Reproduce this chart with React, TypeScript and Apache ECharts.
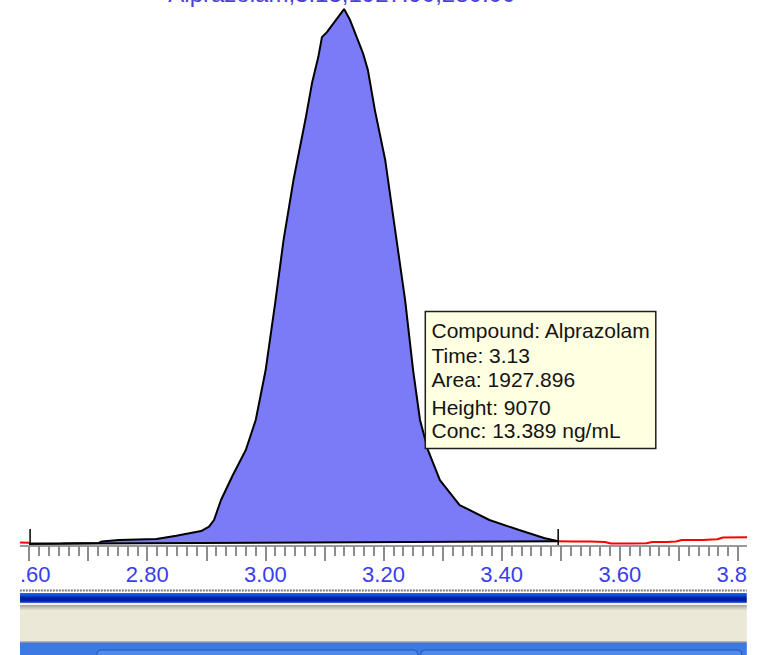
import React, { useEffect, useRef } from "react";
import * as echarts from "echarts";

// Integrated peak trace (retention time in min, signal in counts)
const peakTime = [2.6, 2.655, 2.7182, 2.7232, 2.7518, 2.8156, 2.8493, 2.8711, 2.8913, 2.9047, 2.9131, 2.9249, 2.945, 2.9669, 2.9837, 3.0005, 3.0173, 3.0308, 3.0476, 3.0677, 3.079, 3.0896, 3.0958, 3.1042, 3.1333, 3.1434, 3.1652, 3.1736, 3.1854, 3.2029, 3.2197, 3.2366, 3.2501, 3.2618, 3.2753, 3.2955, 3.3289, 3.3793, 3.4297, 3.4717, 3.4957];
const peakSignal = [39, 43, 51, 77, 102, 119, 175, 216, 255, 329, 443, 783, 1209, 1635, 2146, 2997, 4189, 5211, 6233, 7255, 7885, 8328, 8668, 8753, 9145, 8958, 8396, 8106, 7425, 6574, 5381, 4189, 2997, 2146, 1635, 1124, 698, 443, 272, 136, 80];

// Integration baseline
const baselineTime = [2.6, 3.4957];
const baselineSignal = [39, 80];

// Non-integrated trace (red)
const leftTraceTime = [2.58, 2.6];
const leftTraceSignal = [58, 56];
const rightTraceTime = [3.4957, 3.52, 3.55, 3.575, 3.585, 3.62, 3.645, 3.655, 3.68, 3.695, 3.705, 3.74, 3.765, 3.775, 3.83];
const rightTraceSignal = [80, 78, 76, 68, 44, 43, 48, 68, 70, 78, 102, 104, 115, 145, 150];

// Integration start/end markers
const markerTime = [2.6017, 3.4957];
const markerHeight = 290;

// Peak annotation
const peakLabel = "Alprazolam,3.13,1927.90,280.00";
const infoLines = ["Compound: Alprazolam", "Time: 3.13", "Area: 1927.896", "Height: 9070", "Conc: 13.389 ng/mL"];

const zip = (a: number[], b: number[]) => a.map((v, i) => [v, b[i]]);

// chart div spans page x from -32.8 to 800.2 (clipped to 20..747)
const OX = 32.8;
const CHART_W = 833;

export default function App() {
  const ref = useRef<HTMLDivElement>(null);
  useEffect(() => {
    if (!ref.current) return;
    const chart = echarts.init(ref.current, undefined, { renderer: "svg" });
    const peak = zip(peakTime, peakSignal);
    const base = zip(baselineTime, baselineSignal);
    const infoY = [330.8, 355.8, 379.5, 407, 430.8];
    const px = (x: number) => x + OX;
    const L = px(20);
    const W = 727;
    const series: any[] = [
      {
        type: "line", data: peak, symbol: "none", lineStyle: { width: 0 },
        areaStyle: { color: "#7b7bf7", opacity: 1 }, z: 2,
      },
      {
        type: "line", data: base, symbol: "none", lineStyle: { width: 0 },
        areaStyle: { color: "#ffffff", opacity: 1 }, z: 2,
      },
      { type: "line", data: peak, symbol: "none", lineStyle: { color: "#000", width: 2 }, z: 3 },
      { type: "line", data: base, symbol: "none", lineStyle: { color: "#000", width: 2 }, z: 3 },
      { type: "line", data: zip(leftTraceTime, leftTraceSignal), symbol: "none", lineStyle: { color: "#ff0000", width: 2 }, z: 3 },
      { type: "line", data: zip(rightTraceTime, rightTraceSignal), symbol: "none", lineStyle: { color: "#ff0000", width: 2 }, z: 3 },
      ...markerTime.map((t) => ({
        type: "line", data: [[t, 0], [t, markerHeight]], symbol: "none",
        lineStyle: { color: "#000", width: 1.5 }, z: 4,
      })),
    ];
    chart.setOption({
      animation: false,
      backgroundColor: "#ffffff",
      grid: { left: 0, right: 0, top: 0, bottom: 109 },
      xAxis: {
        type: "value", min: 2.5, max: 3.9, interval: 0.1, z: 10,
        axisLine: { show: true, lineStyle: { color: "#9a9a9a", width: 2 } },
        axisTick: { show: true, length: 15, lineStyle: { color: "#8c8c8c", width: 2 } },
        minorTick: { show: true, splitNumber: 6, length: 10, lineStyle: { color: "#8c8c8c", width: 2 } },
        splitLine: { show: false },
        axisLabel: {
          margin: 17, fontSize: 22, fontFamily: "Liberation Sans", color: "#3c3cf0",
          showMinLabel: true, showMaxLabel: true,
          formatter: (v: number) => (Math.round(v * 10) % 2 === 0 ? v.toFixed(2) : ""),
        },
      },
      yAxis: { type: "value", min: 0, max: 9300, show: false },
      series,
      graphic: [
        {
          type: "text", x: px(342), y: 5, z: 20,
          style: { text: peakLabel, fontSize: 24, fontFamily: "Liberation Sans", fill: "#4b3fd8", align: "center", verticalAlign: "bottom" },
        },
        {
          type: "rect", z: 20, shape: { x: px(425.5), y: 311.5, width: 230.5, height: 137 },
          style: { fill: "#ffffe1", stroke: "#1e1e1e", lineWidth: 1.5 },
        },
        ...infoLines.map((t, i) => ({
          type: "text", x: px(431.7), y: infoY[i], z: 21,
          style: { text: t, fontSize: 21, fontFamily: "Liberation Sans", fill: "#141414", align: "left", verticalAlign: "middle" },
        })),
        {
          type: "line", z: 20, shape: { x1: L, y1: 590.5, x2: L + W, y2: 590.5 },
          style: { stroke: "#7a7a7a", lineWidth: 2, lineDash: [2, 1] },
        },
        {
          type: "rect", z: 20, shape: { x: L, y: 593, width: W, height: 10 },
          style: {
            fill: new echarts.graphic.LinearGradient(0, 0, 0, 1, [
              { offset: 0, color: "#2a66e4" },
              { offset: 0.3, color: "#0a44cc" },
              { offset: 0.5, color: "#001c9c" },
              { offset: 0.8, color: "#00239e" },
              { offset: 1, color: "#3f72da" },
            ]),
          },
        },
        { type: "rect", z: 20, shape: { x: L, y: 603, width: W, height: 2 }, style: { fill: "#f2f1ea" } },
        {
          type: "rect", z: 20, shape: { x: L, y: 605, width: W, height: 5 },
          style: {
            fill: new echarts.graphic.LinearGradient(0, 0, 0, 1, [
              { offset: 0, color: "#a6a498" },
              { offset: 1, color: "#e4e1d2" },
            ]),
          },
        },
        { type: "rect", z: 20, shape: { x: L, y: 610, width: W, height: 31 }, style: { fill: "#ebe8d8" } },
        {
          type: "rect", z: 20, shape: { x: L, y: 641, width: W, height: 3 },
          style: {
            fill: new echarts.graphic.LinearGradient(0, 0, 0, 1, [
              { offset: 0, color: "#c8c4b2" },
              { offset: 1, color: "#2a64d0" },
            ]),
          },
        },
        { type: "rect", z: 20, shape: { x: L, y: 644, width: W, height: 11 }, style: { fill: "#3a7ae2" } },
        { type: "rect", z: 21, shape: { x: px(97), y: 650, width: 321, height: 8, r: 4 }, style: { fill: "#4d8aea", stroke: "#2456b8", lineWidth: 1 } },
        { type: "rect", z: 21, shape: { x: px(421), y: 650, width: 321, height: 8, r: 4 }, style: { fill: "#4d8aea", stroke: "#2456b8", lineWidth: 1 } },
      ],
    });
    return () => chart.dispose();
  }, []);
  return (
    <div style={{ position: "fixed", left: 0, top: 0, width: 762, height: 655, background: "#ffffff" }}>
      <div style={{ position: "absolute", left: 20, top: 0, width: 727, height: 655, overflow: "hidden" }}>
        <div ref={ref} style={{ position: "absolute", left: -52.8, top: 0, width: CHART_W, height: 655 }} />
      </div>
    </div>
  );
}
